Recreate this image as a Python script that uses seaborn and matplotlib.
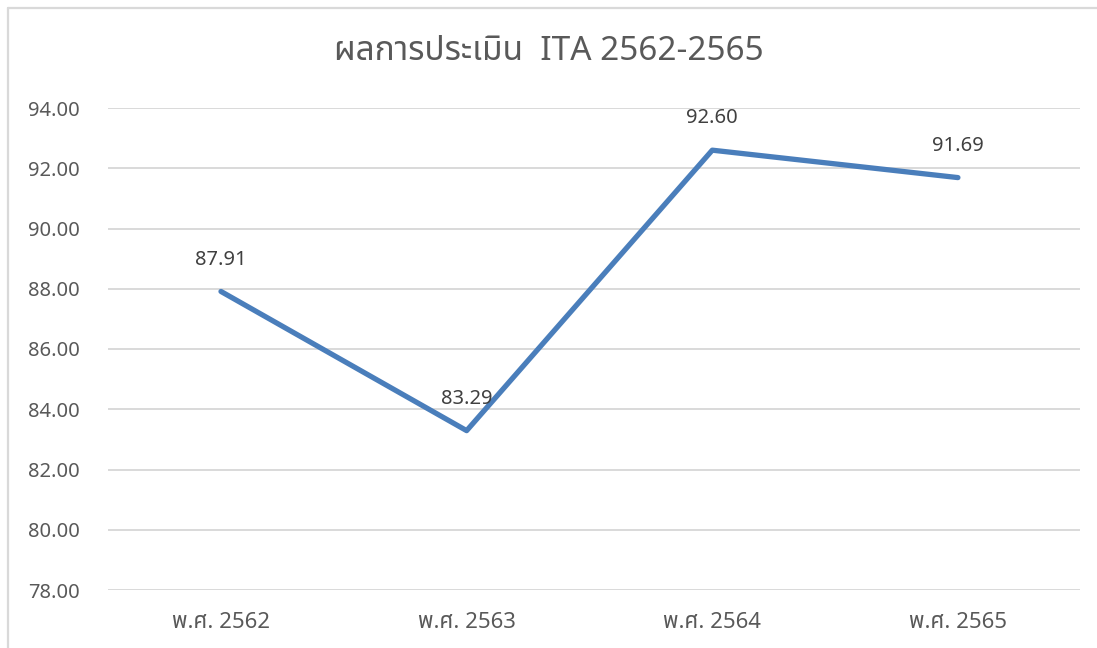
import matplotlib
matplotlib.use("Agg")
import matplotlib.pyplot as plt
import seaborn as sns
import pandas as pd
from matplotlib import font_manager
from matplotlib.lines import Line2D

categories = ["พ.ศ. 2562", "พ.ศ. 2563", "พ.ศ. 2564", "พ.ศ. 2565"]
values = [87.91, 83.29, 92.60, 91.69]
title = "ผลการประเมิน  ITA 2562-2565"

sns.set_theme(style="white")
avail = {f.name for f in font_manager.fontManager.ttflist}
thai = [f for f in ["Noto Sans Thai", "Noto Sans Thai UI", "Loma", "Garuda", "Norasi", "Kinnari", "Waree", "Sarabun", "Tahoma"] if f in avail]
fams = thai + ["Open Sans", "DejaVu Sans"]
plt.rcParams["font.family"] = fams

df = pd.DataFrame({"cat": categories, "val": values})

fig = plt.figure(figsize=(10.97, 6.48), dpi=100)
ax = fig.add_axes([108/1097, 1-590/648, (1080-108)/1097, (590-108)/648])
sns.lineplot(data=df, x="cat", y="val", ax=ax, color="#4A7EBB", linewidth=3.8, sort=False)
ax.set_xlim(-0.46, 3.497)
ax.set_ylim(78, 94)
ax.set_yticks([78 + 2*i for i in range(9)])
ax.set_yticklabels([f"{78 + 2*i:.2f}" for i in range(9)])
ax.grid(axis="y", color="#D9D9D9", linewidth=1.4)
ax.set_axisbelow(True)
for s in ax.spines.values():
    s.set_visible(False)
ax.tick_params(axis="both", length=0, labelcolor="#595959")
ax.tick_params(axis="y", pad=20, labelsize=14.5)
ax.tick_params(axis="x", pad=16, labelsize=16)
ax.set_xlabel("")
ax.set_ylabel("")
for i, v in enumerate(values):
    ax.annotate(f"{v:.2f}", (i, v), xytext=(0, 23), textcoords="offset points",
                ha="center", va="center", fontsize=14.5, color="#404040")
fig.text(0.5, 1-52/648, title, ha="center", va="center", fontsize=24, color="#595959")
x0 = 7.5/1097
y0 = 1 - 7.5/648
fig.add_artist(Line2D([x0, 1], [y0, y0], transform=fig.transFigure, color="#D9D9D9", linewidth=1.6))
fig.add_artist(Line2D([x0, x0], [0, y0], transform=fig.transFigure, color="#D9D9D9", linewidth=1.6))
fig.savefig("out.png", dpi=100)
